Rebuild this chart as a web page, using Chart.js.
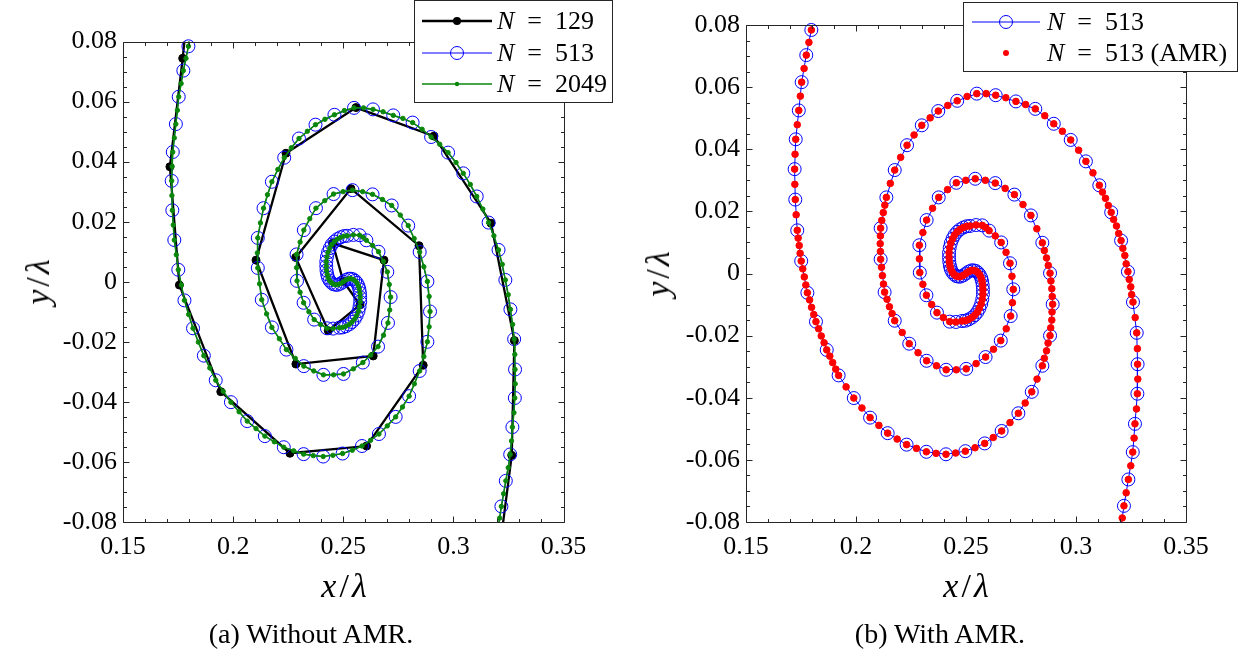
<!DOCTYPE html>
<html>
<head>
<meta charset="utf-8">
<script src="https://cdn.jsdelivr.net/npm/chart.js@4.4.0/dist/chart.umd.min.js"></script>
<style>
  body { margin: 0; width: 1242px; height: 655px; background: #fff; position: relative; overflow: hidden; font-family: "Liberation Serif", serif; color: #000; }
  .panel { position: absolute; top: 0; width: 621px; height: 655px; }
  .axt { position: absolute; font-size: 34px; white-space: nowrap; transform: translate(-50%, -50%); }
  .axt.rot { transform: translate(-50%, -50%) rotate(-90deg); }
  .axt .sl { margin: 0 3px; }
  .cap { position: absolute; font-size: 28px; white-space: nowrap; transform: translate(-50%, -50%); }
</style>
</head>
<body>
<div class="panel" style="left:0"><canvas id="chartA" width="621" height="655"></canvas></div>
<div class="panel" style="left:621px"><canvas id="chartB" width="621" height="655"></canvas></div>

<div class="axt" style="left:344px;top:586px"><i>x</i><span class="sl">/</span><i>λ</i></div>
<div class="axt rot" style="left:38px;top:282px"><i>y</i><span class="sl">/</span><i>λ</i></div>
<div class="axt" style="left:966px;top:586px"><i>x</i><span class="sl">/</span><i>λ</i></div>
<div class="axt rot" style="left:658px;top:274px"><i>y</i><span class="sl">/</span><i>λ</i></div>
<div class="cap" style="left:311px;top:634px">(a) Without AMR.</div>
<div class="cap" style="left:940px;top:634px">(b) With AMR.</div>

<script>
// axis ticks
const xTicks = [0.15, 0.2, 0.25, 0.3, 0.35];
const xTickLabels = ['0.15', '0.2', '0.25', '0.3', '0.35'];
const yTicks = [-0.08, -0.06, -0.04, -0.02, 0, 0.02, 0.04, 0.06, 0.08];
const yTickLabels = ['-0.08', '-0.06', '-0.04', '-0.02', '0', '0.02', '0.04', '0.06', '0.08'];

// N = 513 markers along the sheet, ordered from the upper arm, through the core, to the lower arm
const circles513 = [
  [0.1807, 0.0864], [0.1797, 0.0784], [0.1774, 0.0703], [0.1753, 0.0616], [0.1740, 0.0525],
  [0.1726, 0.0432], [0.1721, 0.0336], [0.1724, 0.0238], [0.1733, 0.0139], [0.1751, 0.0040],
  [0.1779, -0.0062], [0.1818, -0.0155], [0.1867, -0.0246], [0.1921, -0.0328], [0.1990, -0.0401],
  [0.2064, -0.0464], [0.2144, -0.0514], [0.2230, -0.0551], [0.2320, -0.0574], [0.2409, -0.0582],
  [0.2497, -0.0572], [0.2585, -0.0547], [0.2662, -0.0507], [0.2738, -0.0450], [0.2799, -0.0381],
  [0.2847, -0.0297], [0.2882, -0.0200], [0.2894, -0.0099], [0.2882, 0.0001], [0.2847, 0.0099],
  [0.2795, 0.0187], [0.2720, 0.0254], [0.2633, 0.0291], [0.2542, 0.0305], [0.2456, 0.0292],
  [0.2376, 0.0245], [0.2321, 0.0172], [0.2288, 0.0091], [0.2290, 0.0003], [0.2320, -0.0070],
  [0.2368, -0.0126], [0.2426, -0.0155],
  // core
  [0.2482, -0.0153], [0.2512, -0.0148], [0.2540, -0.0134], [0.2561, -0.0112], [0.2574, -0.0083],
  [0.2577, -0.0052], [0.2573, -0.0025], [0.2562, -0.0004], [0.2545, 0.0008], [0.2525, 0.0010],
  [0.2500, 0.0000],
  [0.2475, -0.0010], [0.2455, -0.0008], [0.2438, 0.0004], [0.2427, 0.0025], [0.2423, 0.0052],
  [0.2426, 0.0083], [0.2439, 0.0112], [0.2460, 0.0134], [0.2488, 0.0148], [0.2518, 0.0153],
  // lower arm
  [0.2574, 0.0155], [0.2605, 0.0138], [0.2660, 0.0100], [0.2700, 0.0033], [0.2715, -0.0051],
  [0.2703, -0.0137], [0.2658, -0.0216], [0.2589, -0.0269], [0.2501, -0.0307], [0.2410, -0.0310],
  [0.2321, -0.0281], [0.2242, -0.0226], [0.2176, -0.0152], [0.2130, -0.0060], [0.2112, 0.0046],
  [0.2112, 0.0146], [0.2138, 0.0245], [0.2176, 0.0333], [0.2232, 0.0413], [0.2299, 0.0477],
  [0.2374, 0.0523], [0.2460, 0.0556], [0.2549, 0.0579], [0.2635, 0.0574], [0.2727, 0.0554],
  [0.2815, 0.0530], [0.2899, 0.0482], [0.2976, 0.0430], [0.3045, 0.0361], [0.3106, 0.0284],
  [0.3160, 0.0197], [0.3205, 0.0106], [0.3236, 0.0006], [0.3259, -0.0092], [0.3276, -0.0191],
  [0.3280, -0.0292], [0.3279, -0.0387], [0.3268, -0.0484], [0.3258, -0.0575], [0.3238, -0.0663],
  [0.3218, -0.0748], [0.3202, -0.0826]
];

// the core is packed with N = 513 markers; these sit between the ones above
const coreCircles513 = [
  [0.2454, -0.0156], [0.2497, -0.0152], [0.2527, -0.0142], [0.2552, -0.0124], [0.2569, -0.0098],
  [0.2577, -0.0067], [0.2576, -0.0038], [0.2569, -0.0014], [0.2554, 0.0003], [0.2535, 0.0010],
  [0.2512, 0.0006], [0.2488, -0.0006], [0.2465, -0.0010], [0.2446, -0.0003], [0.2431, 0.0014],
  [0.2424, 0.0038], [0.2423, 0.0067], [0.2431, 0.0098], [0.2448, 0.0124], [0.2473, 0.0142],
  [0.2503, 0.0152], [0.2546, 0.0156]
];

// sheet points lying between consecutive N = 513 markers (one per gap)
const between513 = [
  [0.1802, 0.0824], [0.1786, 0.0744], [0.1764, 0.0660], [0.1747, 0.0571], [0.1733, 0.0479],
  [0.1723, 0.0384], [0.1722, 0.0287], [0.1728, 0.0189], [0.1742, 0.0090], [0.1765, -0.0011],
  [0.1798, -0.0109], [0.1842, -0.0201], [0.1894, -0.0287], [0.1955, -0.0365], [0.2027, -0.0433],
  [0.2104, -0.0489], [0.2187, -0.0533], [0.2275, -0.0563], [0.2364, -0.0579], [0.2453, -0.0578],
  [0.2541, -0.0561], [0.2624, -0.0528], [0.2700, -0.0480], [0.2769, -0.0417], [0.2823, -0.0340],
  [0.2866, -0.0249], [0.2890, -0.0150], [0.2890, -0.0049], [0.2866, 0.0050], [0.2822, 0.0144],
  [0.2759, 0.0222], [0.2678, 0.0274], [0.2588, 0.0300], [0.2499, 0.0300], [0.2416, 0.0270],
  [0.2348, 0.0210], [0.2304, 0.0132], [0.2288, 0.0047], [0.2304, -0.0035], [0.2344, -0.0100],
  [0.2397, -0.0142],
  [0.2454, -0.0156], [0.2497, -0.0152], [0.2527, -0.0142], [0.2552, -0.0124], [0.2569, -0.0098],
  [0.2577, -0.0067], [0.2576, -0.0038], [0.2569, -0.0014], [0.2554, 0.0003], [0.2535, 0.0010],
  [0.2512, 0.0006], [0.2488, -0.0006], [0.2465, -0.0010], [0.2446, -0.0003], [0.2431, 0.0014],
  [0.2424, 0.0038], [0.2423, 0.0067], [0.2431, 0.0098], [0.2448, 0.0124], [0.2473, 0.0142],
  [0.2503, 0.0152], [0.2546, 0.0156],
  [0.2590, 0.0148], [0.2633, 0.0121], [0.2682, 0.0068], [0.2709, -0.0009], [0.2711, -0.0094],
  [0.2683, -0.0178], [0.2625, -0.0244], [0.2546, -0.0290], [0.2456, -0.0310], [0.2366, -0.0297],
  [0.2282, -0.0255], [0.2210, -0.0190], [0.2152, -0.0107], [0.2120, -0.0007], [0.2110, 0.0096],
  [0.2124, 0.0196], [0.2156, 0.0290], [0.2203, 0.0374], [0.2264, 0.0446], [0.2337, 0.0501],
  [0.2417, 0.0541], [0.2505, 0.0570], [0.2592, 0.0579], [0.2681, 0.0566], [0.2771, 0.0544],
  [0.2858, 0.0508], [0.2938, 0.0458], [0.3012, 0.0397], [0.3077, 0.0324], [0.3134, 0.0242],
  [0.3184, 0.0153], [0.3222, 0.0058], [0.3249, -0.0043], [0.3269, -0.0142], [0.3279, -0.0242],
  [0.3281, -0.0340], [0.3275, -0.0436], [0.3264, -0.0530], [0.3249, -0.0619], [0.3228, -0.0706],
  [0.3210, -0.0787]
];

// extra AMR points where the sheet is refined
const amrRefined = [
  [0.1737, 0.0114], [0.1746, 0.0065], [0.1758, 0.0015], [0.1772, -0.0037], [0.1789, -0.0085],
  [0.1808, -0.0132], [0.1830, -0.0178], [0.1855, -0.0223], [0.1881, -0.0266], [0.1908, -0.0308],
  [0.3120, 0.0262], [0.3147, 0.0219], [0.3171, 0.0174], [0.3194, 0.0129], [0.3213, 0.0081],
  [0.3228, 0.0031], [0.3242, -0.0019], [0.3253, -0.0068],
  [0.2164, -0.0129], [0.2141, -0.0083], [0.2125, -0.0034], [0.2116, 0.0020], [0.2111, 0.0071],
  [0.2111, 0.0121], [0.2117, 0.0171], [0.2131, 0.0220],
  [0.2856, -0.0273], [0.2873, -0.0224], [0.2885, -0.0175], [0.2891, -0.0124], [0.2892, -0.0074],
  [0.2886, -0.0024], [0.2874, 0.0026], [0.2856, 0.0074]
];

// N = 129 markers
const coarse129 = [
  [0.1820, 0.1100], [0.1771, 0.0744], [0.1713, 0.0383], [0.1756, -0.0011], [0.1944, -0.0366],
  [0.2258, -0.0571], [0.2606, -0.0547], [0.2863, -0.0278], [0.2844, 0.0120], [0.2535, 0.0310],
  [0.2284, 0.0081], [0.2432, -0.0163], [0.2576, -0.0077], [0.2500, 0.0002], [0.2452, 0.0128],
  [0.2685, 0.0072], [0.2636, -0.0247], [0.2285, -0.0274], [0.2104, 0.0072], [0.2240, 0.0428],
  [0.2558, 0.0580], [0.2912, 0.0485], [0.3171, 0.0195], [0.3277, -0.0196], [0.3265, -0.0578],
  [0.3201, -0.0943]
];

const legendA = ['129', '513', '2049'];
const legendB = ['513', '513 (AMR)'];

const toXY = arr => arr.map(([x, y]) => ({ x, y }));
const inView = p => p && p.x >= 0.15 && p.x <= 0.35 && p.y >= -0.08 && p.y <= 0.08;

// fine path through every marker and the point after it
const sheetPath = [];
circles513.forEach((p, i) => {
  sheetPath.push(p);
  if (i < between513.length) sheetPath.push(between513[i]);
});

const BLUE = '#0000ff', GREEN = '#0a870a', RED = '#ff0000', AXIS = '#262626';
const FONT = '"Liberation Serif", serif';

// full box with inward major/minor ticks on all sides
const frameTicks = {
  id: 'frameTicks',
  afterDatasetsDraw(chart) {
    const { ctx, chartArea: a, scales: { x, y } } = chart;
    const L = Math.round(a.left) + 0.5, R = Math.round(a.right) + 0.5;
    const T = Math.round(a.top) + 0.5, B = Math.round(a.bottom) + 0.5;
    ctx.save();
    ctx.strokeStyle = AXIS;
    ctx.lineWidth = 1;
    ctx.beginPath();
    for (let k = 0; k <= 20; k++) {
      const px = Math.round(x.getPixelForValue(0.15 + k * 0.01)) + 0.5;
      const len = k % 5 === 0 ? 6 : 3.5;
      ctx.moveTo(px, B); ctx.lineTo(px, B - len);
      ctx.moveTo(px, T); ctx.lineTo(px, T + len);
    }
    for (let k = 0; k <= 32; k++) {
      const py = Math.round(y.getPixelForValue(-0.08 + k * 0.005)) + 0.5;
      const len = k % 4 === 0 ? 6 : 3.5;
      ctx.moveTo(L, py); ctx.lineTo(L + len, py);
      ctx.moveTo(R, py); ctx.lineTo(R - len, py);
    }
    ctx.moveTo(L, T); ctx.lineTo(R, T); ctx.lineTo(R, B); ctx.lineTo(L, B); ctx.closePath();
    ctx.stroke();
    ctx.restore();
  }
};

// legend box: sample line, marker, then "N = ..."
function sheetLegend(cfg) {
  return {
    id: 'sheetLegend',
    afterDraw(chart) {
      const ctx = chart.ctx;
      const [bx, by, bw, bh] = cfg.box;
      ctx.save();
      ctx.fillStyle = '#fff';
      ctx.fillRect(bx, by, bw, bh);
      ctx.strokeStyle = AXIS;
      ctx.lineWidth = 1;
      ctx.strokeRect(bx + 0.5, by + 0.5, bw, bh);
      cfg.rows.forEach(r => {
        if (r.line) {
          ctx.strokeStyle = r.line;
          ctx.lineWidth = r.lineWidth;
          ctx.beginPath();
          ctx.moveTo(cfg.lineX[0], r.y);
          ctx.lineTo(cfg.lineX[1], r.y);
          ctx.stroke();
        }
        ctx.beginPath();
        ctx.arc(cfg.markX, r.y, r.radius, 0, Math.PI * 2);
        if (r.hollow) {
          ctx.strokeStyle = r.color;
          ctx.lineWidth = 1;
          ctx.stroke();
        } else {
          ctx.fillStyle = r.color;
          ctx.fill();
        }
        ctx.fillStyle = '#000';
        ctx.textBaseline = 'middle';
        ctx.font = 'italic ' + cfg.size + 'px ' + FONT;
        ctx.fillText('N', cfg.textX, r.y + 1);
        const w = ctx.measureText('N').width;
        ctx.font = cfg.size + 'px ' + FONT;
        ctx.fillText('\u2002=\u2002' + r.label, cfg.textX + w, r.y + 1);
      });
      ctx.restore();
    }
  };
}

function scales(yWidth) {
  const tickFont = { family: FONT, size: 26 };
  return {
    x: {
      type: 'linear', min: 0.15, max: 0.35,
      afterBuildTicks: s => { s.ticks = xTicks.map(v => ({ value: v })); },
      afterFit: s => { s.height = 133; },
      ticks: { callback: (v, i) => xTickLabels[i], font: tickFont, color: '#000', padding: 10, maxRotation: 0, autoSkip: false },
      grid: { display: false, drawTicks: false },
      border: { display: false }
    },
    y: {
      type: 'linear', min: -0.08, max: 0.08,
      afterBuildTicks: s => { s.ticks = yTicks.map(v => ({ value: v })); },
      afterFit: s => { s.width = yWidth; },
      ticks: { callback: (v, i) => yTickLabels[i], font: tickFont, color: '#000', padding: 6, autoSkip: false },
      grid: { display: false, drawTicks: false },
      border: { display: false }
    }
  };
}

function lineSet(data, color, width, order) {
  return { data: toXY(data), showLine: true, borderColor: color, borderWidth: width, pointRadius: 0, clip: 0, order };
}
function markerSet(data, r, fill, stroke, order) {
  return {
    data: toXY(data), showLine: false, clip: false, order,
    pointRadius: c => inView(c.raw) ? r : 0,
    pointHoverRadius: 0,
    pointBackgroundColor: fill,
    pointBorderColor: stroke,
    pointBorderWidth: 1
  };
}

const common = {
  responsive: false,
  animation: false,
  events: [],
  plugins: { legend: { display: false }, tooltip: { enabled: false } }
};

// (a) without AMR
new Chart(document.getElementById('chartA'), {
  type: 'scatter',
  data: {
    datasets: [
      lineSet(coarse129, '#000', 2.3, 6),
      markerSet(coarse129, 4, '#000', '#000', 5),
      lineSet(circles513, BLUE, 1, 4),
      markerSet(circles513.concat(coreCircles513), 6.5, 'rgba(0,0,0,0)', BLUE, 3),
      lineSet(sheetPath, GREEN, 1.6, 2),
      markerSet(sheetPath, 2.2, GREEN, GREEN, 1)
    ]
  },
  options: Object.assign({}, common, {
    layout: { padding: { left: 0, right: 57.5, top: 41.5, bottom: 0 } },
    scales: scales(123)
  }),
  plugins: [frameTicks, sheetLegend({
    box: [414, 0, 198, 102], lineX: [422, 492], markX: 457, textX: 497, size: 26,
    rows: [
      { y: 21, label: legendA[0], line: '#000', lineWidth: 2.3, radius: 4, color: '#000' },
      { y: 53, label: legendA[1], line: BLUE, lineWidth: 1, radius: 6.5, color: BLUE, hollow: true },
      { y: 84, label: legendA[2], line: GREEN, lineWidth: 1.6, radius: 2.2, color: GREEN }
    ]
  })]
});

// (b) with AMR
new Chart(document.getElementById('chartB'), {
  type: 'scatter',
  data: {
    datasets: [
      lineSet(circles513, BLUE, 1, 4),
      markerSet(circles513.concat(coreCircles513), 6.5, 'rgba(0,0,0,0)', BLUE, 3),
      markerSet(sheetPath.concat(amrRefined), 3.3, RED, RED, 1)
    ]
  },
  options: Object.assign({}, common, {
    layout: { padding: { left: 0, right: 56, top: 25, bottom: 0 } },
    scales: scales(125)
  }),
  plugins: [frameTicks, sheetLegend({
    box: [342, 2, 274, 69], lineX: [351, 419], markX: 385, textX: 426, size: 26,
    rows: [
      { y: 22, label: legendB[0], line: BLUE, lineWidth: 1, radius: 6.5, color: BLUE, hollow: true },
      { y: 53, label: legendB[1], radius: 3, color: RED }
    ]
  })]
});
</script>
</body>
</html>
